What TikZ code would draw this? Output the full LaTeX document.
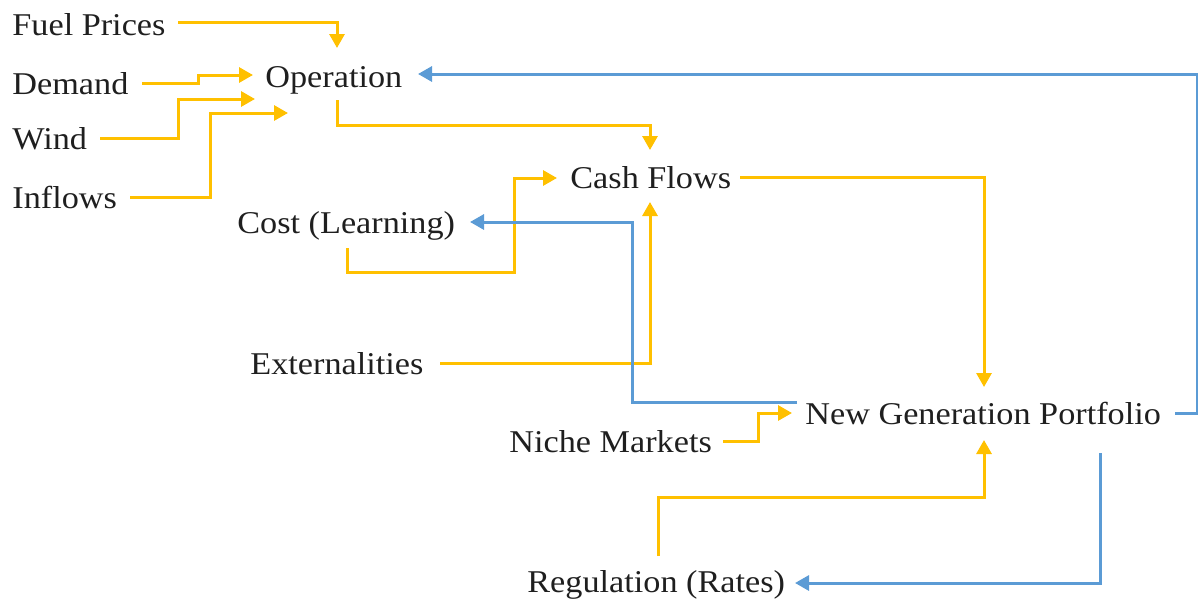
\documentclass[tikz,border=0pt]{standalone}
\usepackage{fontspec}
\setmainfont{Liberation Serif}[FakeStretch=1.08]
\usetikzlibrary{arrows.meta,calc}
\definecolor{flowyellow}{HTML}{FFC000}
\definecolor{feedblue}{HTML}{5B9BD5}
\begin{document}
\begin{tikzpicture}[x=0.5pt,y=-0.5pt,
  lbl/.style={anchor=base west,inner sep=0pt,text=black!88,
              font=\fontsize{15.85}{19}\selectfont},
  link/.style={line width=1.5pt,-{Triangle[length=7pt,width=7.5pt]}},
  ylink/.style={link,draw=flowyellow},
  blink/.style={link,draw=feedblue}]
\useasboundingbox (0,0) rectangle (1198,600);

% labels
\node[lbl] (fuel)    at (12,35)   {Fuel Prices};
\node[lbl] (demand)  at (12,94)   {Demand};
\node[lbl] (wind)    at (12,149)  {Wind};
\node[lbl] (inflows) at (12,208)  {Inflows};
\node[lbl] (oper)    at (265,87)  {Operation};
\node[lbl] (cash)    at (570,188) {Cash Flows};
\node[lbl] (cost)    at (237,233) {Cost (Learning)};
\node[lbl] (ext)     at (250,374) {Externalities};
\node[lbl] (ngp)     at (805,424) {New Generation Portfolio};
\node[lbl] (niche)   at (509,452) {Niche Markets};
\node[lbl] (reg)     at (527,592) {Regulation (Rates)};

% inputs to operation
\draw[ylink] ($(fuel.base west)+(166,-13)$) -| ($(oper.base west)+(72,-39)$);
\draw[ylink] ($(demand.base west)+(130,-11)$) -- ++(56,0) |- ($(oper.base west)+(-12,-12)$);
\draw[ylink] ($(wind.base west)+(88,-11)$) -- ++(78,0) |- ($(oper.base west)+(-10,12)$);
\draw[ylink] ($(inflows.base west)+(118,-11)$) -- ++(80,0) |- ($(oper.base west)+(23,26)$);

% into cash flows
\draw[ylink] ($(oper.base west)+(72,13)$) -- ++(0,25) -| ($(cash.base west)+(80,-38)$);
\draw[ylink] ($(cost.base west)+(110,15)$) -- ++(0,24) -- ++(167,0) |- ($(cash.base west)+(-13,-10)$);
\draw[ylink] ($(ext.base west)+(190,-11)$) -| ($(cash.base west)+(80,14)$);

% into the portfolio
\draw[ylink] ($(cash.base west)+(170,-11)$) -| ($(ngp.base west)+(179,-37)$);
\draw[ylink] ($(niche.base west)+(214,-11)$) -- ++(35,0) |- ($(ngp.base west)+(-13,-11)$);
\draw[ylink] ($(reg.base west)+(131,-36)$) -- ++(0,-59) -| ($(ngp.base west)+(179,16)$);

% feedback from the portfolio
\draw[blink] ($(ngp.base west)+(-8,-22)$) -- ++(-165,0) |- ($(cost.base west)+(233,-11)$);
\draw[blink] ($(ngp.base west)+(295,29)$) |- ($(reg.base west)+(268,-9)$);
\draw[blink] ($(ngp.base west)+(370,-11)$) -- ++(22,0) |- ($(oper.base west)+(153,-13)$);
\end{tikzpicture}
\end{document}
